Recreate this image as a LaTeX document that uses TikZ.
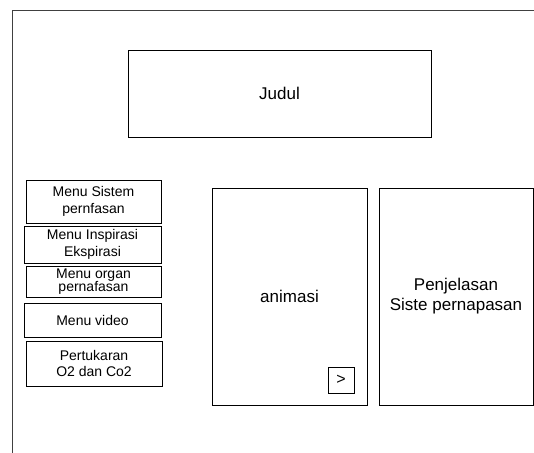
\documentclass[tikz,border=0pt]{standalone}
\usepackage{fontspec}
\setmainfont{Liberation Sans}
\begin{document}
\begin{tikzpicture}[x=1pt,y=-1pt,
  panel/.style={draw=black,line width=1pt,rectangle,inner sep=0pt,align=center},
  bigtext/.style={font=\fontsize{17}{20}\selectfont},
  menutext/.style={font=\fontsize{14}{16.5}\selectfont},
  menubox/.style={panel,menutext}]
  \useasboundingbox (0,0) rectangle (534,452);
  % page frame (continues past the right and bottom edges)
  \coordinate (frameBL) at (12.5,470);
  \coordinate (frameTL) at (12.5,10.5);
  \coordinate (frameTR) at (560,10.5);
  \draw[line width=1pt,draw=black!75] (frameBL) -- (frameTL) -- (frameTR);
  % title
  \node[panel,bigtext,minimum width=303pt,minimum height=87pt] (judul) at (279.5,93.5) {Judul};
  % menu column
  \node[menubox,minimum width=135pt,minimum height=43pt] (msistem) at (93.5,201.5) {Menu Sistem\\pernfasan};
  \node[menubox,minimum width=137pt,minimum height=37pt] (minspirasi) at (92.5,244.5) {Menu Inspirasi\\Ekspirasi};
  \node[menubox,font=\fontsize{14}{13.5}\selectfont,minimum width=135pt,minimum height=31pt] (morgan) at (93.5,281.5) {Menu organ\\pernafasan};
  \node[menubox,minimum width=137pt,minimum height=34pt] (mvideo) at (92.5,320) {Menu video};
  \node[menubox,minimum width=136pt,minimum height=45pt] (mtukar) at (94,363.5) {Pertukaran\\O2 dan Co2};
  % content panels
  \node[panel,bigtext,minimum width=155pt,minimum height=217pt] (animasi) at (289.5,296.5) {animasi};
  \node[panel,bigtext,minimum width=154pt,minimum height=217pt] (penjelasan) at (456,296.5) {Penjelasan\\Siste pernapasan};
  % next button
  \node[panel,font=\fontsize{16}{18}\selectfont,minimum width=26pt,minimum height=26pt] (next) at (341,380) {>};
\end{tikzpicture}
\end{document}
